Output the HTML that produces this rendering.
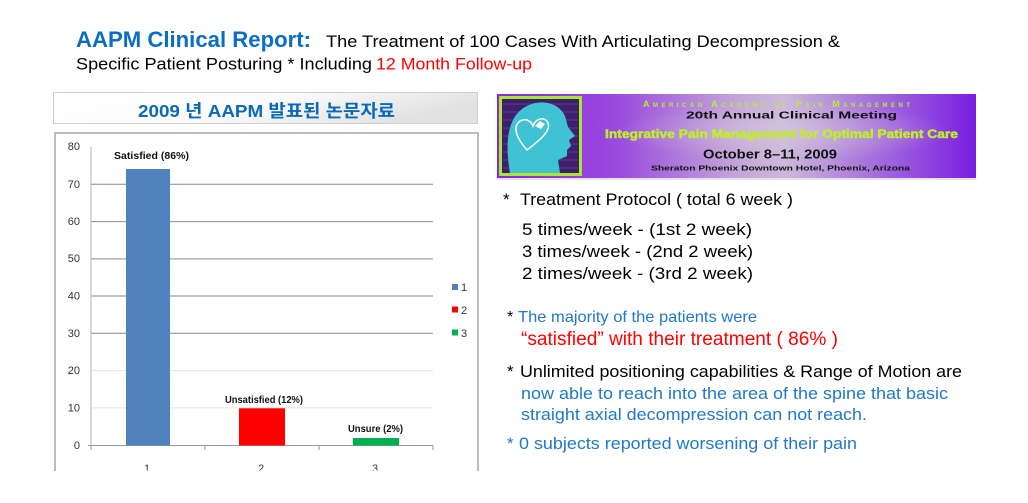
<!DOCTYPE html>
<html><head><meta charset="utf-8"><style>
html,body{margin:0;padding:0;background:#fff;}
svg{display:block;}
text{font-family:"Liberation Sans","Noto Sans CJK KR",sans-serif;}
</style></head><body>
<svg width="1028" height="503" viewBox="0 0 1028 503" xmlns="http://www.w3.org/2000/svg">
<defs>
<linearGradient id="hdr" x1="0" y1="0" x2="1" y2="0.3">
<stop offset="0" stop-color="#ffffff"/><stop offset="0.55" stop-color="#fbfbfb"/><stop offset="1" stop-color="#e2e2e2"/>
</linearGradient>
<linearGradient id="pur" x1="0" y1="0" x2="1" y2="0">
<stop offset="0" stop-color="#8a24e2"/><stop offset="0.25" stop-color="#9a4ade"/><stop offset="0.5" stop-color="#c3a6d9"/><stop offset="0.6" stop-color="#cdb9da"/><stop offset="0.75" stop-color="#ad7ddb"/><stop offset="1" stop-color="#7a1de2"/>
</linearGradient>
<radialGradient id="pur2" cx="0.6" cy="0.45" r="0.35">
<stop offset="0" stop-color="#d6c8dc" stop-opacity="0.6"/><stop offset="1" stop-color="#d6c8dc" stop-opacity="0"/>
</radialGradient>
<clipPath id="cc"><rect x="0" y="0" width="1028" height="470.5"/></clipPath>
</defs>

<!-- Title -->
<text x="76" y="47" font-size="22" font-weight="bold" fill="#0a6fc2" textLength="235" lengthAdjust="spacingAndGlyphs">AAPM Clinical Report:</text>
<text x="326" y="47" font-size="16.5" fill="#000" textLength="514" lengthAdjust="spacingAndGlyphs">The Treatment of 100 Cases With  Articulating Decompression &amp;</text>
<text x="76" y="69.5" font-size="16.5" fill="#000" textLength="296" lengthAdjust="spacingAndGlyphs">Specific Patient Posturing * Including</text>
<text x="376" y="69.5" font-size="16.5" fill="#ff0000" textLength="156" lengthAdjust="spacingAndGlyphs">12 Month Follow-up</text>

<!-- header box -->
<rect x="53.5" y="92.5" width="424" height="31" fill="url(#hdr)" stroke="#cfcfcf" stroke-width="1"/>
<text x="138" y="117" font-size="17.5" font-weight="bold" fill="#0a6ab8" textLength="257" lengthAdjust="spacingAndGlyphs">2009 년 AAPM 발표된 논문자료</text>

<!-- chart box -->
<path d="M55,471 L55,133 L478,133 L478,471" fill="#fff" stroke="#999" stroke-width="1.3"/>

<!-- gridlines -->
<g stroke="#8a8a8a" stroke-width="1">
<line x1="91" y1="184.3" x2="433" y2="184.3"/>
<line x1="91" y1="221.6" x2="433" y2="221.6"/>
<line x1="91" y1="258.9" x2="433" y2="258.9"/>
<line x1="91" y1="296.0" x2="433" y2="296.0"/>
<line x1="91" y1="333.3" x2="433" y2="333.3"/>
</g>
<g stroke="#e4e4e4" stroke-width="1">
<line x1="91" y1="370.6" x2="433" y2="370.6"/>
<line x1="91" y1="407.9" x2="433" y2="407.9"/>
</g>
<line x1="91" y1="147" x2="91" y2="445.5" stroke="#b5b5b5" stroke-width="1"/>
<g stroke="#999" stroke-width="1">
<line x1="88" y1="445.5" x2="433" y2="445.5"/>
<line x1="91" y1="445.5" x2="91" y2="450"/>
<line x1="205" y1="445.5" x2="205" y2="450"/>
<line x1="319" y1="445.5" x2="319" y2="450"/>
<line x1="433" y1="445.5" x2="433" y2="450"/>
</g>

<!-- y labels -->
<g font-size="11" fill="#333" text-anchor="end">
<text x="80" y="150">80</text>
<text x="80" y="188">70</text>
<text x="80" y="225">60</text>
<text x="80" y="262">50</text>
<text x="80" y="299.5">40</text>
<text x="80" y="337">30</text>
<text x="80" y="374">20</text>
<text x="80" y="411.5">10</text>
<text x="80" y="449">0</text>
</g>

<!-- bars -->
<rect x="126" y="169" width="44" height="276.5" fill="#4f81bd"/>
<rect x="239" y="408.3" width="46" height="37.2" fill="#ff0000"/>
<rect x="353" y="438" width="46" height="7.5" fill="#00b050"/>

<!-- data labels -->
<g font-size="10.5" font-weight="bold" fill="#111">
<text x="114" y="159" textLength="75" lengthAdjust="spacingAndGlyphs">Satisfied (86%)</text>
<text x="225" y="403" textLength="78" lengthAdjust="spacingAndGlyphs">Unsatisfied (12%)</text>
<text x="348" y="432" textLength="55" lengthAdjust="spacingAndGlyphs">Unsure (2%)</text>
</g>

<!-- category labels (clipped) -->
<g clip-path="url(#cc)" font-size="11" fill="#333" text-anchor="middle">
<text x="147" y="472">1</text>
<text x="261" y="472">2</text>
<text x="375" y="472">3</text>
</g>

<!-- legend -->
<rect x="452" y="284" width="6" height="6" fill="#4f81bd"/>
<rect x="452" y="306.5" width="6" height="6" fill="#ff0000"/>
<rect x="452" y="329.5" width="6" height="6" fill="#00b050"/>
<g font-size="11" fill="#333">
<text x="461" y="291">1</text>
<text x="461" y="314">2</text>
<text x="461" y="337">3</text>
</g>

<!-- purple banner -->
<rect x="497" y="94" width="479" height="84" fill="url(#pur)"/>
<rect x="497" y="94" width="479" height="84" fill="url(#pur2)"/>
<rect x="497" y="178" width="479" height="2" fill="#e8e0ee"/>
<!-- head box -->
<rect x="499" y="96" width="83" height="80" fill="#a8e830"/>
<rect x="502" y="99" width="77" height="74" fill="#3d1f6c"/>
<g stroke="#5a3a8c" stroke-width="1.5" opacity="0.8">
<line x1="503" y1="104" x2="578" y2="104"/><line x1="503" y1="112" x2="578" y2="112"/>
<line x1="503" y1="120" x2="578" y2="120"/><line x1="503" y1="128" x2="578" y2="128"/>
<line x1="503" y1="136" x2="578" y2="136"/><line x1="503" y1="144" x2="578" y2="144"/>
<line x1="503" y1="152" x2="578" y2="152"/><line x1="503" y1="160" x2="578" y2="160"/>
<line x1="503" y1="168" x2="578" y2="168"/>
</g>
<path d="M510,173 C506,150 505,122 522,109 C537,98 558,101 565,116 L568,127 L575,136 L569,140 L571,146 L567,150 L567,156 L558,160 L560,173 Z" fill="#3fc2d3"/>
<path d="M527,150 C518,140 512,128 519,122 C525,117 531,121 533,126 C536,118 545,116 548,123 C551,131 540,140 527,150 Z" fill="none" stroke="#fff" stroke-width="1.5"/>
<path d="M535,126 L540,121 L545,124 L541,129 Z" fill="#fff"/>

<!-- banner text -->
<text x="643" y="107" font-size="9" font-weight="bold" fill="#b6ee32" style="font-variant:small-caps" textLength="267" lengthAdjust="spacing">American Academy of Pain Management</text>
<text x="686" y="118.5" font-size="10" font-weight="bold" fill="#111" textLength="211" lengthAdjust="spacingAndGlyphs">20th Annual Clinical Meeting</text>
<text x="605" y="138" font-size="11.5" font-weight="bold" fill="#c0ec2e" stroke="#c0ec2e" stroke-width="0.5" textLength="353" lengthAdjust="spacingAndGlyphs">Integrative Pain Management for Optimal Patient Care</text>
<text x="703" y="158.5" font-size="13" font-weight="bold" fill="#111" textLength="134" lengthAdjust="spacingAndGlyphs">October 8–11, 2009</text>
<text x="651" y="170.5" font-size="7.5" font-weight="bold" fill="#111" textLength="259" lengthAdjust="spacingAndGlyphs">Sheraton Phoenix Downtown Hotel, Phoenix, Arizona</text>

<!-- right text -->
<g font-size="17" fill="#000">
<text x="503" y="205">*</text>
<text x="520" y="205" textLength="273" lengthAdjust="spacingAndGlyphs">Treatment Protocol ( total 6 week )</text>
<text x="522" y="235" textLength="230" lengthAdjust="spacingAndGlyphs">5 times/week -  (1st  2 week)</text>
<text x="522" y="257" textLength="231" lengthAdjust="spacingAndGlyphs">3 times/week -  (2nd 2 week)</text>
<text x="522" y="279" textLength="231" lengthAdjust="spacingAndGlyphs">2 times/week -  (3rd  2 week)</text>
</g>
<text x="507" y="322" font-size="16" fill="#000">*</text>
<text x="518" y="322" font-size="16" fill="#1f78c8" textLength="239" lengthAdjust="spacingAndGlyphs">The majority of the patients were</text>
<text x="521" y="345" font-size="19" fill="#ff0000" textLength="317" lengthAdjust="spacingAndGlyphs">“satisfied” with their treatment ( 86% )</text>
<text x="507" y="377" font-size="17" fill="#000">*</text>
<text x="520" y="377" font-size="17" fill="#000" textLength="442" lengthAdjust="spacingAndGlyphs">Unlimited positioning capabilities &amp; Range of Motion are</text>
<text x="521" y="399" font-size="17" fill="#1f78c8" textLength="427" lengthAdjust="spacingAndGlyphs">now able to reach into the area of the spine that basic</text>
<text x="521" y="420" font-size="17" fill="#1f78c8" textLength="346" lengthAdjust="spacingAndGlyphs">straight axial decompression can not reach.</text>
<text x="507" y="449" font-size="17" fill="#1f78c8">*</text>
<text x="519" y="449" font-size="17" fill="#1f78c8" textLength="338" lengthAdjust="spacingAndGlyphs">0 subjects reported worsening of their pain</text>
</svg>
</body></html>
